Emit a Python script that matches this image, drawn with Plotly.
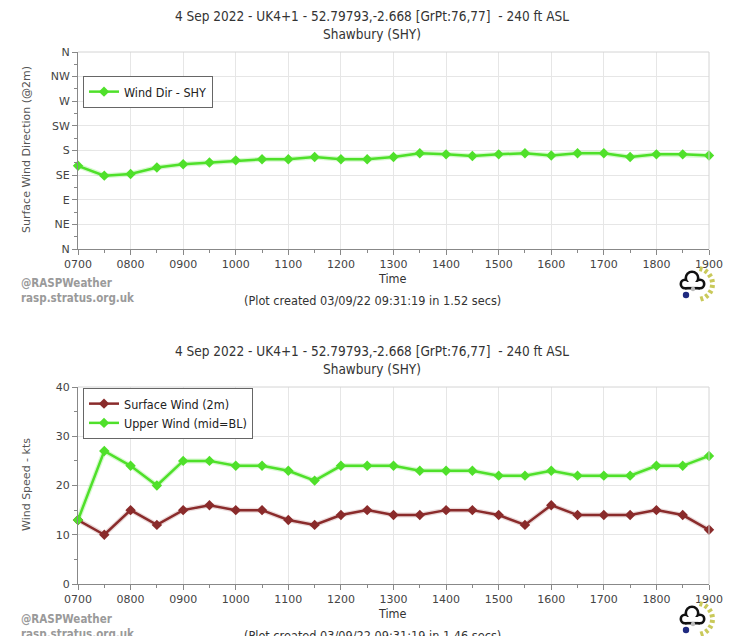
import math
import plotly.graph_objects as go

W, H = 730, 636

# ---- data ----
hours = [7.0, 7.5, 8.0, 8.5, 9.0, 9.5, 10.0, 10.5, 11.0, 11.5, 12.0, 12.5, 13.0,
         13.5, 14.0, 14.5, 15.0, 15.5, 16.0, 16.5, 17.0, 17.5, 18.0, 18.5, 19.0]
wind_dir = [152, 134, 137, 149, 155, 158, 162, 164, 164, 168, 164, 164, 168,
            175, 173, 170, 173, 175, 171, 175, 175, 168, 173, 173, 171]
surface_wind = [13, 10, 15, 12, 15, 16, 15, 15, 13, 12, 14, 15, 14,
                14, 15, 15, 14, 12, 16, 14, 14, 14, 15, 14, 11]
upper_wind = [13, 27, 24, 20, 25, 25, 24, 24, 23, 21, 24, 24, 24,
              23, 23, 23, 22, 22, 23, 22, 22, 22, 24, 24, 26]
x_tickvals = [7, 8, 9, 10, 11, 12, 13, 14, 15, 16, 17, 18, 19]
x_ticktext = ["0700", "0800", "0900", "1000", "1100", "1200", "1300",
              "1400", "1500", "1600", "1700", "1800", "1900"]
dir_tickvals = [0, 45, 90, 135, 180, 225, 270, 315, 360]
dir_ticktext = ["N", "NE", "E", "SE", "S", "SW", "W", "NW", "N"]
speed_tickvals = [0, 10, 20, 30, 40]

title_line1 = "4 Sep 2022 - UK4+1 - 52.79793,-2.668 [GrPt:76,77]  - 240 ft ASL"
title_line2 = "Shawbury (SHY)"

GREEN = "#4fe02a"
GREEN_GLOW = "rgba(90,230,60,0.25)"
BROWN = "#8a2b2b"
BROWN_GLOW = "rgba(140,45,45,0.18)"

def px(x):
    return x / W

def py(y):
    return 1 - y / H

COND = "DejaVu Sans Condensed, DejaVu Sans, sans-serif"
SANS = "DejaVu Sans, sans-serif"

fig = go.Figure()

# top: wind direction
fig.add_trace(go.Scatter(x=hours, y=wind_dir, mode="lines", line=dict(color=GREEN_GLOW, width=5),
                         showlegend=False, hoverinfo="skip", xaxis="x", yaxis="y", cliponaxis=False))
fig.add_trace(go.Scatter(x=hours, y=wind_dir, mode="lines+markers", name="Wind Dir - SHY",
                         line=dict(color=GREEN, width=2.5),
                         marker=dict(symbol="diamond", size=8, color=GREEN),
                         xaxis="x", yaxis="y", legend="legend", cliponaxis=False))

# bottom: wind speeds
fig.add_trace(go.Scatter(x=hours, y=surface_wind, mode="lines", line=dict(color=BROWN_GLOW, width=5),
                         showlegend=False, hoverinfo="skip", xaxis="x2", yaxis="y2", cliponaxis=False))
fig.add_trace(go.Scatter(x=hours, y=upper_wind, mode="lines", line=dict(color=GREEN_GLOW, width=5),
                         showlegend=False, hoverinfo="skip", xaxis="x2", yaxis="y2", cliponaxis=False))
fig.add_trace(go.Scatter(x=hours, y=surface_wind, mode="lines+markers", name="Surface Wind (2m)",
                         line=dict(color=BROWN, width=2.5),
                         marker=dict(symbol="diamond", size=8, color=BROWN),
                         xaxis="x2", yaxis="y2", legend="legend2", cliponaxis=False))
fig.add_trace(go.Scatter(x=hours, y=upper_wind, mode="lines+markers", name="Upper Wind (mid=BL)",
                         line=dict(color=GREEN, width=2.5),
                         marker=dict(symbol="diamond", size=8, color=GREEN),
                         xaxis="x2", yaxis="y2", legend="legend2", cliponaxis=False))

xdom = [px(78), px(709)]
common_x = dict(range=[7, 19], tickvals=x_tickvals, ticktext=x_ticktext,
                showgrid=True, gridcolor="#e6e6e6", gridwidth=1,
                showline=True, linecolor="#888888", linewidth=1,
                ticks="outside", ticklen=5, tickcolor="#888888",
                minor=dict(dtick=0.5, ticks="outside", ticklen=3, tickcolor="#888888", showgrid=False),
                tickfont=dict(family=SANS, size=11, color="#444444"),
                zeroline=False, fixedrange=True, domain=xdom, automargin=False)
common_y = dict(showgrid=True, gridcolor="#e6e6e6", gridwidth=1,
                showline=True, linecolor="#888888", linewidth=1,
                ticks="outside", ticklen=5, tickcolor="#888888",
                tickfont=dict(family=SANS, size=11, color="#444444"),
                zeroline=False, fixedrange=True, automargin=False)

fig.update_layout(
    width=W, height=H,
    margin=dict(l=0, r=0, t=0, b=0, pad=0, autoexpand=False),
    paper_bgcolor="white", plot_bgcolor="white",
    xaxis=dict(common_x, anchor="y"),
    yaxis=dict(common_y, range=[0, 360], tickvals=dir_tickvals, ticktext=dir_ticktext,
               minor=dict(tickvals=[22.5, 67.5, 112.5, 157.5, 202.5, 247.5, 292.5, 337.5],
                          ticks="outside", ticklen=3, tickcolor="#888888", showgrid=False),
               domain=[py(249), py(52)], anchor="x"),
    xaxis2=dict(common_x, anchor="y2"),
    yaxis2=dict(common_y, range=[0, 40], tickvals=speed_tickvals,
                minor=dict(dtick=5, ticks="outside", ticklen=3, tickcolor="#888888", showgrid=False),
                domain=[py(584), py(387)], anchor="x2"),
    legend=dict(x=px(83), y=py(76), xanchor="left", yanchor="top",
                bgcolor="white", bordercolor="#666666", borderwidth=1,
                font=dict(family=COND, size=12.5, color="#222222"),
                itemwidth=30, tracegroupgap=0),
    legend2=dict(x=px(83), y=py(388), xanchor="left", yanchor="top",
                 bgcolor="white", bordercolor="#666666", borderwidth=1,
                 font=dict(family=COND, size=12.5, color="#222222"),
                 itemwidth=30, tracegroupgap=0),
    showlegend=True,
)

shapes = []
for yr in ["y", "y2"]:
    xr = "x" if yr == "y" else "x2"
    shapes.append(dict(type="line", xref=xr + " domain", yref=yr + " domain",
                       x0=0, x1=1, y0=1, y1=1, line=dict(color="#d4d4d4", width=1)))
    shapes.append(dict(type="line", xref=xr + " domain", yref=yr + " domain",
                       x0=1, x1=1, y0=0, y1=1, line=dict(color="#d4d4d4", width=1)))

# small weather logo (decoration) drawn in pixel positions
def circ(cx, cy, r, color):
    return dict(type="circle", xref="paper", yref="paper",
                x0=px(cx - r), x1=px(cx + r), y0=py(cy + r), y1=py(cy - r),
                fillcolor=color, line=dict(width=0), layer="above")

def rect(xa, ya, xb, yb, color):
    return dict(type="rect", xref="paper", yref="paper",
                x0=px(xa), x1=px(xb), y0=py(yb), y1=py(ya),
                fillcolor=color, line=dict(width=0), layer="above")

for off in [0, 335]:
    cyb = 283 + off
    lobes = [(685, cyb + 1, 5.5), (692, cyb - 5, 7.5), (700, cyb + 1, 5.5)]
    for cx, cy, r in lobes:
        shapes.append(circ(cx, cy, r, "#111111"))
    shapes.append(rect(685, cyb - 1, 700, cyb + 6.5, "#111111"))
    for cx, cy, r in lobes:
        shapes.append(circ(cx, cy, r - 2.6, "white"))
    shapes.append(rect(685, cyb - 1, 700, cyb + 3.9, "white"))
    shapes.append(circ(686, cyb + 12, 3.2, "#1f2a80"))
    shapes.append(circ(693, cyb + 6, 2.2, "#bbbbbb"))
    for k in range(8):
        a = math.radians(-75 + k * 21)
        r0, r1 = 13, 18
        cx0, cy0 = 697, cyb + 1
        shapes.append(dict(type="line", xref="paper", yref="paper",
                           x0=px(cx0 + r0 * math.cos(a)), y0=py(cy0 + r0 * math.sin(a)),
                           x1=px(cx0 + r1 * math.cos(a)), y1=py(cy0 + r1 * math.sin(a)),
                           line=dict(color="#c9c95a", width=3), layer="above"))
fig.update_layout(shapes=shapes)

ann = []
for off, created in [(0, "(Plot created 03/09/22 09:31:19 in 1.52 secs)"),
                     (335, "(Plot created 03/09/22 09:31:19 in 1.46 secs)")]:
    ann.append(dict(x=px(372), y=py(25 + off), text=title_line1, showarrow=False,
                    xref="paper", yref="paper", xanchor="center", yanchor="bottom", borderpad=0,
                    font=dict(family=COND, size=13.5, color="#333333")))
    ann.append(dict(x=px(372), y=py(25 + off), text=title_line2, showarrow=False,
                    xref="paper", yref="paper", xanchor="center", yanchor="top", borderpad=0,
                    font=dict(family=COND, size=13.5, color="#333333")))
    ann.append(dict(x=px(393), y=py(278 + off), text="Time", showarrow=False,
                    xref="paper", yref="paper", xanchor="center", yanchor="middle",
                    font=dict(family=COND, size=12.5, color="#333333")))
    ann.append(dict(x=px(372), y=py(300 + off), text=created, showarrow=False,
                    xref="paper", yref="paper", xanchor="center", yanchor="middle",
                    font=dict(family=COND, size=12.6, color="#333333")))
    ann.append(dict(x=px(19), y=py(291 + off),
                    text="<b>@RASPWeather</b><br><b>rasp.stratus.org.uk</b>", showarrow=False,
                    xref="paper", yref="paper", xanchor="left", yanchor="middle", align="left",
                    font=dict(family=COND, size=11.5, color="#9a9a9a")))

ann.append(dict(x=px(26), y=py(150), text="Surface Wind Direction (@2m)", showarrow=False,
                xref="paper", yref="paper", xanchor="center", yanchor="middle", textangle=-90,
                font=dict(family=SANS, size=11, color="#555555")))
ann.append(dict(x=px(26), y=py(485), text="Wind Speed - kts", showarrow=False,
                xref="paper", yref="paper", xanchor="center", yanchor="middle", textangle=-90,
                font=dict(family=SANS, size=11, color="#555555")))
fig.update_layout(annotations=ann)

fig.write_html("out.html", config={"displayModeBar": False},
               post_script="document.body.style.margin='0';document.body.style.overflow='hidden';")
